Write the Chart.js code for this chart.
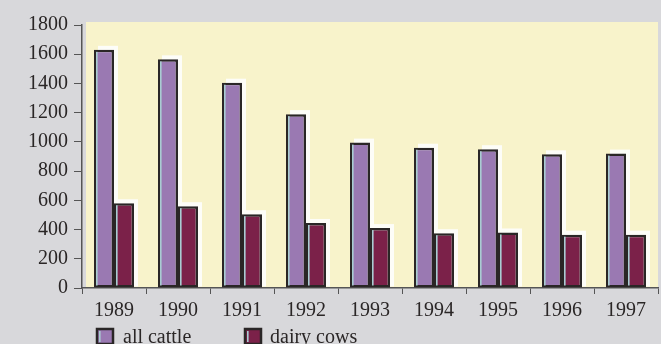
<!DOCTYPE html>
<html>
<head>
<meta charset="utf-8">
<script src="https://cdn.jsdelivr.net/npm/chart.js@4/dist/chart.umd.min.js"></script>
<style>
  html, body { margin: 0; padding: 0; background: #d8d8db; }
  #wrap { width: 661px; height: 344px; position: relative; }
  canvas { display: block; }
</style>
</head>
<body>
<div id="wrap"><canvas id="c" width="661" height="344"></canvas></div>
<script>
// Cattle numbers (thousands), 1989-1997
const years = ['1989', '1990', '1991', '1992', '1993', '1994', '1995', '1996', '1997'];
const allCattle = [1630, 1565, 1405, 1190, 995, 960, 950, 915, 920];
const dairyCows = [580, 560, 505, 445, 410, 375, 380, 365, 365];
const yTicks = [0, 200, 400, 600, 800, 1000, 1200, 1400, 1600, 1800];

const FONT = '"Liberation Serif", "Times New Roman", serif';
const INK = '#2a2626';

// Pale yellow panel behind the bars
const panelPlugin = {
  id: 'panel',
  beforeDraw(chart) {
    const { ctx, chartArea: a } = chart;
    ctx.save();
    ctx.fillStyle = '#f8f3cb';
    ctx.fillRect(a.left + 4, a.top - 3, a.right - a.left - 4, a.bottom - a.top + 2);
    ctx.restore();
  }
};

// White offset highlight behind each bar, and a light edge on its left side
const barDecor = {
  id: 'barDecor',
  beforeDatasetsDraw(chart) {
    const { ctx } = chart;
    ctx.save();
    ctx.fillStyle = '#fdfdf8';
    chart.data.datasets.forEach((ds, i) => {
      chart.getDatasetMeta(i).data.forEach(bar => {
        const w = bar.width;
        ctx.fillRect(bar.x - w / 2 + 4, bar.y - 4, w, bar.base - bar.y + 3);
      });
    });
    ctx.restore();
  },
  afterDatasetsDraw(chart) {
    const { ctx } = chart;
    ctx.save();
    ctx.fillStyle = '#a9ccd2';
    chart.data.datasets.forEach((ds, i) => {
      chart.getDatasetMeta(i).data.forEach(bar => {
        const w = bar.width;
        ctx.fillRect(bar.x - w / 2 + 2, bar.y + 2, 1.6, bar.base - bar.y - 4);
      });
    });
    ctx.restore();
  }
};

// Legend row along the bottom edge
const legendRow = {
  id: 'legendRow',
  afterDraw(chart) {
    const { ctx } = chart;
    const items = [{ box: 97, text: 123 }, { box: 245, text: 270 }];
    ctx.save();
    ctx.font = '20px ' + FONT;
    ctx.textBaseline = 'alphabetic';
    chart.data.datasets.forEach((ds, i) => {
      const it = items[i];
      ctx.fillStyle = ds.backgroundColor;
      ctx.fillRect(it.box, 329, 16, 15);
      ctx.strokeStyle = INK;
      ctx.lineWidth = 2.5;
      ctx.strokeRect(it.box, 329, 16, 15);
      ctx.fillStyle = '#a9ccd2';
      ctx.fillRect(it.box + 2, 331, 1.6, 11);
      ctx.fillStyle = INK;
      ctx.fillText(ds.label, it.text, 343);
    });
    ctx.restore();
  }
};

new Chart(document.getElementById('c'), {
  type: 'bar',
  data: {
    labels: years,
    datasets: [
      {
        label: 'all cattle',
        data: allCattle,
        backgroundColor: '#9a79b2',
        borderColor: INK,
        borderWidth: 2.5,
        borderSkipped: false
      },
      {
        label: 'dairy cows',
        data: dairyCows,
        backgroundColor: '#7b2149',
        borderColor: INK,
        borderWidth: 2.5,
        borderSkipped: false
      }
    ]
  },
  options: {
    responsive: false,
    animation: false,
    events: [],
    layout: { padding: { top: 25, right: 3, bottom: 0, left: 0 } },
    plugins: {
      legend: { display: false },
      tooltip: { enabled: false }
    },
    datasets: {
      bar: { categoryPercentage: 0.625, barPercentage: 1.0 }
    },
    scales: {
      x: {
        afterFit(scale) { scale.height = 56; },
        grid: {
          offset: true,
          drawOnChartArea: false,
          drawTicks: true,
          tickLength: 6,
          color: '#555',
          lineWidth: 1
        },
        border: { display: true, color: '#555', width: 1.5 },
        ticks: {
          padding: 5,
          color: INK,
          font: { family: FONT, size: 20 },
          maxRotation: 0
        }
      },
      y: {
        min: 0,
        max: 1800,
        afterFit(scale) { scale.width = 82; },
        afterBuildTicks(scale) { scale.ticks = yTicks.map(v => ({ value: v })); },
        grid: {
          drawOnChartArea: false,
          drawTicks: true,
          tickLength: 8,
          color: '#555',
          lineWidth: 1
        },
        border: { display: true, color: '#555', width: 1.5 },
        ticks: {
          padding: 6,
          color: INK,
          font: { family: FONT, size: 20 },
          callback: v => String(v)
        }
      }
    }
  },
  plugins: [panelPlugin, barDecor, legendRow]
});
</script>
</body>
</html>
